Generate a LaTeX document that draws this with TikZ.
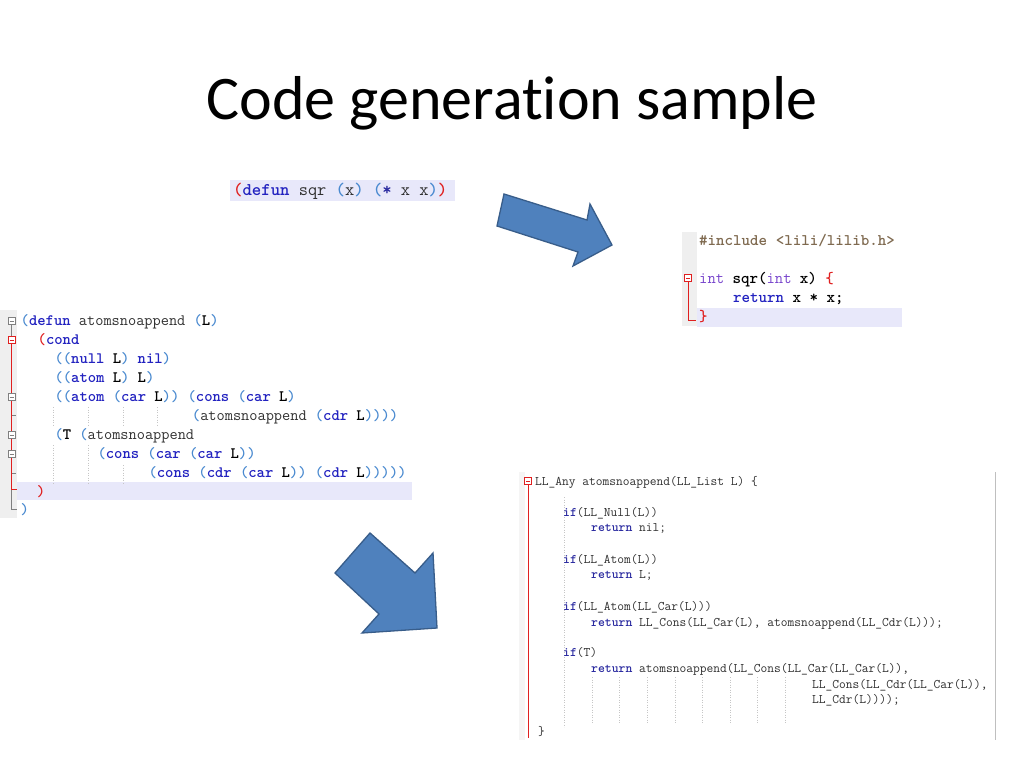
\documentclass[tikz,border=0pt]{standalone}
\usepackage{fontspec}
\setmainfont{Carlito}[Ligatures=NoCommon]
\definecolor{arrfill}{HTML}{4F81BD}
\definecolor{arrdraw}{HTML}{385D8A}
\definecolor{hl}{HTML}{E8E8FA}
\definecolor{gut}{HTML}{EFEFEF}
\definecolor{kw}{HTML}{2222C0}
\definecolor{pa}{HTML}{4A8AD0}
\definecolor{rd}{HTML}{E02020}
\definecolor{tx}{HTML}{303030}
\definecolor{inc}{HTML}{7F6A50}
\definecolor{typ}{HTML}{7744CC}
\definecolor{kc}{HTML}{2A2AA0}
\newcommand\Kw[1]{\textcolor{kw}{\bfseries #1}}
\newcommand\Pa[1]{\textcolor{pa}{\bfseries #1}}
\newcommand\Rd[1]{\textcolor{rd}{\bfseries #1}}
\newcommand\Bk[1]{\textcolor{black}{\bfseries #1}}
\newcommand\Kc[1]{\textcolor{kc}{\bfseries #1}}
\tikzset{
  codeline/.style={anchor=base west, inner sep=0pt, text=tx},
  cbig/.style={codeline, font=\ttfamily\fontsize{17.9}{20}\selectfont},
  cmid/.style={codeline, font=\ttfamily\fontsize{16.2}{19}\selectfont},
  clisp/.style={codeline, font=\ttfamily\fontsize{15.9}{18}\selectfont},
  csmall/.style={codeline, font=\ttfamily\fontsize{13.1}{15}\selectfont},
  fold/.style={draw=#1, fill=white, minimum width=7pt, minimum height=7pt, inner sep=0pt, line width=0.7pt,
    path picture={\draw[#1, line width=0.7pt] ([xshift=1.5pt]path picture bounding box.west) -- ([xshift=-1.5pt]path picture bounding box.east);}},
  bigarrow/.style={fill=arrfill, draw=arrdraw, line width=1.3pt, line join=miter},
  guide/.style={gray!45, dotted, line width=0.5pt},
}
\begin{document}
\begin{tikzpicture}[x=1pt,y=-1pt]
\useasboundingbox[fill=white] (0,0) rectangle (1024,768);

% title
\node[font=\fontsize{62}{70}\selectfont, anchor=base, inner sep=0pt] (title) at (512,119) {Code generation sample};

% top lisp snippet
\fill[hl] (230,180) rectangle (455,201);
\node[cbig] (s1) at (233,195) {\Rd{(}\Kw{defun} sqr \Pa{(}x\Pa{)} \Pa{(}\Kc{*} x x\Pa{)}\Rd{)}};

% arrow 1
\draw[bigarrow] (504,194) -- (587,220) -- (590,204) -- (612,245) -- (573,266) -- (578,252) -- (497,226) -- cycle;

% top right C snippet
\fill[gut] (682,232) rectangle (697,326);
\fill[hl] (697,308) rectangle (902,327);
\node[cmid] (r1) at (699,245) {\textcolor{inc}{\bfseries\#include <lili/lilib.h>}};
\node[cmid] (r2) at (699,283) {\textcolor{typ}{int} \Bk{sqr(}\textcolor{typ}{int} \Bk{x)} \Rd{\{}};
\node[cmid] (r3) at (733,302) {\Kw{return} \Bk{x * x;}};
\node[cmid] (r4) at (699,321) {\Rd{\}}};
\node[fold=rd] (rf) at (688,278) {};
\coordinate (rfe) at (696,320);
\draw[rd, line width=0.8pt] (rf.south) |- (rfe);

% left lisp block
\fill[gut] (0,310) rectangle (17,518);
\fill[hl] (17,482) rectangle (412,500);
\node[clisp] (l1) at (20.5,325) {\Pa{(}\Kw{defun} atomsnoappend \Pa{(}\Bk{L}\Pa{)}};
\node[clisp] (l2) at (37.5,344) {\Rd{(}\Kw{cond}};
\node[clisp] (l3) at (54.3,363) {\Pa{((}\Kw{null} \Bk{L}\Pa{)} \Kw{nil}\Pa{)}};
\node[clisp] (l4) at (54.3,382) {\Pa{((}\Kw{atom} \Bk{L}\Pa{)} \Bk{L}\Pa{)}};
\node[clisp] (l5) at (54.3,401) {\Pa{((}\Kw{atom} \Pa{(}\Kw{car} \Bk{L}\Pa{))} \Pa{(}\Kw{cons} \Pa{(}\Kw{car} \Bk{L}\Pa{)}};
\node[clisp] (l6) at (191.7,420) {\Pa{(}atomsnoappend \Pa{(}\Kw{cdr} \Bk{L}\Pa{))))}};
\node[clisp] (l7) at (54.3,439) {\Pa{(}\Bk{T} \Pa{(}atomsnoappend};
\node[clisp] (l8) at (97.3,458) {\Pa{(}\Kw{cons} \Pa{(}\Kw{car} \Pa{(}\Kw{car} \Bk{L}\Pa{))}};
\node[clisp] (l9) at (148.3,477) {\Pa{(}\Kw{cons} \Pa{(}\Kw{cdr} \Pa{(}\Kw{car} \Bk{L}\Pa{))} \Pa{(}\Kw{cdr} \Bk{L}\Pa{)))))}};
\node[clisp] (l10) at (36.7,496) {\Rd{)}};
\node[clisp] (l11) at (20.5,514) {\Pa{)}};
% gutter fold marks
\coordinate (g1) at (11.5,509);
\coordinate (g1e) at (17,509);
\coordinate (g2) at (11.5,489);
\coordinate (g2e) at (17,489);
\node[fold=gray] (lf1) at (11.5,321) {};
\draw[gray, line width=0.7pt] (lf1.south) -- (g1) -- (g1e);
\draw[rd, line width=0.8pt] (11.5,343) -- (g2) -- (g2e);
\draw[gray, line width=0.7pt] (11.5,415) -- (16,415) (11.5,473) -- (16,473);
\node[fold=rd] (lf2) at (11.5,340) {};
\node[fold=gray] (lf5) at (11.5,397) {};
\node[fold=gray] (lf7) at (11.5,435) {};
\node[fold=gray] (lf8) at (11.5,454) {};
% indentation guides
\foreach \gx in {53,88,123,157} \draw[guide] (\gx,407) -- (\gx,426);
\foreach \gx in {53,88} \draw[guide] (\gx,445) -- (\gx,484);
\draw[guide] (123,465) -- (123,484);

% arrow 2
\draw[bigarrow] (370,533) -- (415,573) -- (433,553) -- (437,628) -- (362,633) -- (379,614) -- (335,573) -- cycle;

% bottom right C block
\fill[gut!60] (519,472) rectangle (525,740);
\draw[gray!50, line width=0.8pt] (995,472) -- (995,740);
\foreach \gx in {592,619.6,647.2,674.8,702.4,730,757.6,785.2} \draw[guide] (\gx,677) -- (\gx,724);
\draw[guide] (564,497) -- (564,727);
\node[csmall] (b1) at (535,485.5) {LL\_Any atomsnoappend(LL\_List L) \{};
\node[csmall] (b2) at (563,516.5) {\Kc{if}(LL\_Null(L))};
\node[csmall] (b3) at (591,531.5) {\Kc{return} nil;};
\node[csmall] (b4) at (563,563.5) {\Kc{if}(LL\_Atom(L))};
\node[csmall] (b5) at (591,578.5) {\Kc{return} L;};
\node[csmall] (b6) at (563,610.5) {\Kc{if}(LL\_Atom(LL\_Car(L)))};
\node[csmall] (b7) at (591,626.5) {\Kc{return} LL\_Cons(LL\_Car(L), atomsnoappend(LL\_Cdr(L)));};
\node[csmall] (b8) at (563,656.5) {\Kc{if}(T)};
\node[csmall] (b9) at (591,672.5) {\Kc{return} atomsnoappend(LL\_Cons(LL\_Car(LL\_Car(L)),};
\node[csmall] (b10) at (812,688.5) {LL\_Cons(LL\_Cdr(LL\_Car(L)),};
\node[csmall] (b11) at (812,703.5) {LL\_Cdr(L))));};
\node[csmall] (b12) at (538,735.5) {\}};
\coordinate (bfe) at (528,738);
\node[fold=rd] (bf) at (528,481) {};
\draw[rd, line width=0.8pt] (bf.south) -- (bfe);
\end{tikzpicture}
\end{document}
